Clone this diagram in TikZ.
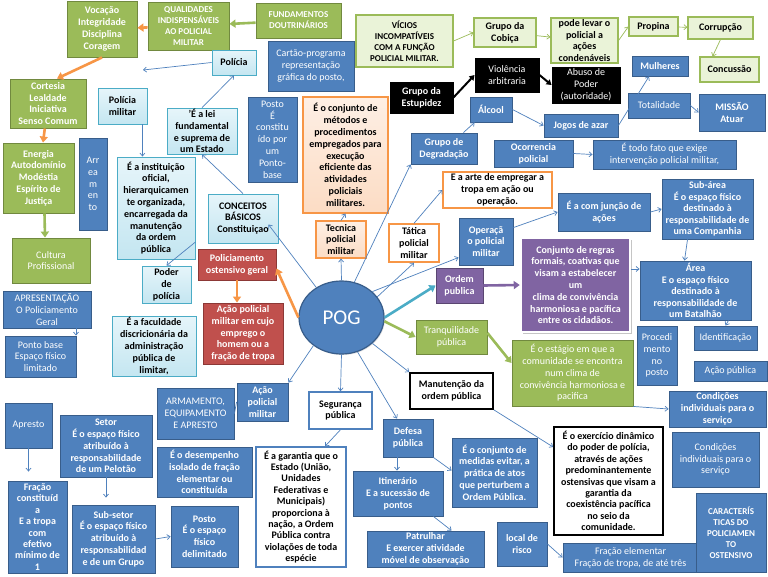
\documentclass[tikz,border=0pt]{standalone}
\usepackage{fontspec}
\setmainfont{Carlito}
\usepackage{tikz}
\usetikzlibrary{shapes, arrows.meta, positioning, shadows}

\definecolor{azul}{HTML}{4F81BD}
\definecolor{azulborda}{HTML}{385D8A}
\definecolor{celeste}{HTML}{C4E6F1}
\definecolor{celestetopo}{HTML}{E6F5FA}
\definecolor{celesteborda}{HTML}{4BACC6}
\definecolor{oliva}{HTML}{9BBB59}
\definecolor{olivaborda}{HTML}{71893F}
\definecolor{verdeclaro}{HTML}{EAF3D8}
\definecolor{laranja}{HTML}{F79646}
\definecolor{pessego}{HTML}{FCDCC4}
\definecolor{vermelho}{HTML}{C0504D}
\definecolor{vermelhoborda}{HTML}{8C3836}
\definecolor{roxo}{HTML}{8064A2}

\tikzset{
  caixa/.style={rectangle, align=center, inner sep=0.5pt, line width=0.9pt,
    font=\fontsize{10}{11.8}\selectfont\bfseries,
    drop shadow={opacity=0.25, shadow xshift=1pt, shadow yshift=-1pt}},
  tam/.style 2 args={minimum width=#1pt, minimum height=#2pt},
  fina/.style={font=\fontsize{10}{11.8}\selectfont},
  apertada/.style={font=\fontsize{10}{11.4}\selectfont\bfseries},
  maiusc/.style={font=\fontsize{9}{11}\selectfont\bfseries},
  azulcx/.style={caixa, fill=azul, draw=azulborda, text=white},
  celestecx/.style={caixa, top color=celestetopo, bottom color=celeste, draw=celesteborda},
  verdecx/.style={caixa, fill=oliva, draw=olivaborda, text=white},
  claroverde/.style={caixa, fill=verdeclaro, draw=oliva, line width=1.1pt},
  laranjacx/.style={caixa, top color=white!55!pessego, bottom color=pessego, draw=laranja, line width=1.1pt},
  brancolar/.style={caixa, fill=white, draw=laranja, line width=1.4pt},
  vermelhocx/.style={caixa, fill=vermelho, draw=vermelhoborda, text=white},
  pretocx/.style={caixa, fill=black, draw=black, text=white},
  roxocx/.style={caixa, fill=roxo, draw=roxo!70!black, text=white},
  bordapreta/.style={caixa, fill=white, draw=black, line width=1.7pt},
  bordaazul/.style={caixa, fill=white, draw=azul, line width=1.4pt},
  seta/.style={draw=azul, line width=0.7pt, -{Straight Barb[length=3pt,width=5pt]}},
  setaverde/.style={seta, draw=oliva},
  grossa/.style={line width=2.6pt, -{Triangle[length=6pt,width=8pt]}},
  setapreta/.style={black, line width=2pt, -{Triangle[length=5pt,width=6pt]}}
}

\begin{document}
\begin{tikzpicture}[x=1pt, y=-1pt]
        \useasboundingbox[fill=white] (0,0) rectangle (768,576);

        % Qualidades
        \node[verdecx, tam={70}{56}] (vocacao) at (102,29) {Vocação\\Integridade\\Disciplina\\Coragem};
        \node[verdecx, maiusc, tam={81}{48}] (qualidades) at (188.5,26) {QUALIDADES\\INDISPENSÁVEIS\\AO POLICIAL\\MILITAR};
        \node[verdecx, maiusc, tam={85}{35}] (fundamentos) at (298.5,20.5) {FUNDAMENTOS\\DOUTRINÁRIOS};
        \node[verdecx, tam={76}{49}] (cortesia) at (48,103.5) {Cortesia\\Lealdade\\Iniciativa\\Senso Comum};
        \node[verdecx, tam={71}{70}] (energia) at (38.5,178) {Energia\\Autodomínio\\Modéstia\\Espírito de\\Justiça};
        \node[verdecx, fina, tam={78}{45}] (cultura) at (51,260.5) {Cultura\\Profissional};

        % Conceitos basicos
        \node[celestecx, tam={44}{25}] (policia) at (234,62.5) {Polícia};
        \coordinate (policiafim) at (143,70);
        \node[celestecx, tam={49}{36}] (pmilitar) at (122.5,106) {Polícia\\militar};
        \node[celestecx, tam={70}{46}] (lei) at (202,131) {'É a lei\\fundamental\\e suprema de\\um Estado};
        \node[celestecx, tam={78}{102}] (instituicao) at (156,208) {É a instituição\\oficial,\\hierarquicamen\\te organizada,\\encarregada da\\manutenção\\da ordem\\pública};
        \node[celestecx, tam={70}{49}] (conceitos) at (243,218.5) {CONCEITOS\\BÁSICOS\\Constituiçao};
        \node[celestecx, tam={49}{37}] (poder) at (166.5,284.5) {Poder\\de\\polícia};
        \node[celestecx, tam={84}{60}] (faculdade) at (154,346) {É a faculdade\\discricionária da\\administração\\pública de\\limitar,};

        % Posto e tecnica
        \node[azulcx, fina, tam={28}{92}] (arreamento) at (93,184) {Arr\\ea\\m\\en\\to};
        \node[azulcx, fina, tam={86}{50}] (cartao) at (311,66) {Cartão-programa\\representação\\gráfica do posto,};
        \node[azulcx, fina, tam={49}{85}] (postobase) at (272.5,139.5) {Posto\\É\\constitu\\ído por\\um\\Ponto-\\base};
        \node[laranjacx, tam={85}{116}] (metodos) at (345.5,155) {É o conjunto de\\métodos e\\procedimentos\\empregados para\\execução\\eficiente das\\atividades\\policiais\\militares.};
        \node[laranjacx, tam={50}{37}] (tecnica) at (341,239.5) {Tecnica\\policial\\militar};

        % Vicios
        \node[claroverde, maiusc, tam={97}{52}] (vicios) at (404.5,41) {VÍCIOS\\INCOMPATÍVEIS\\COM A FUNÇÃO\\POLICIAL MILITAR.};
        \node[claroverde, tam={62}{29}] (cobica) at (505,32.5) {Grupo da\\Cobiça};
        \node[claroverde, tam={67}{45}] (podelevar) at (584.5,40.5) {pode levar o\\policial a\\ações\\condenáveis};
        \node[claroverde, tam={49}{19}] (propina) at (653.5,26.5) {Propina};
        \node[claroverde, tam={65}{22}] (corrupcao) at (720.5,28) {Corrupção};
        \node[claroverde, tam={59}{25}] (concussao) at (729.5,69.5) {Concussão};
        \node[pretocx, tam={63}{31}] (estupidez) at (421.5,97.5) {Grupo da\\Estupidez};
        \node[pretocx, fina, tam={64}{34}] (violencia) at (507,75) {Violência\\arbitraria};
        \node[pretocx, fina, tam={68}{36}] (abuso) at (586,85) {Abuso de\\Poder\\(autoridade)};

        % Degradacao
        \node[azulcx, tam={56}{20}] (mulheres) at (660,66) {Mulheres};
        \node[azulcx, fina, tam={62}{25}] (totalidade) at (659,105.5) {Totalidade};
        \node[azulcx, tam={66}{37}] (missao) at (732,112.5) {MISSÃO\\Atuar};
        \node[azulcx, tam={74}{23}] (jogos) at (581,125.5) {Jogos de azar};
        \node[azulcx, tam={79}{27}] (ocorrencia) at (533.5,153.5) {Ocorrencia\\policial};
        \node[azulcx, fina, tam={143}{29}] (todofato) at (664.5,154.5) {É todo fato que exige\\intervenção policial militar,};
        \node[azulcx, tam={42}{25}] (alcool) at (491,109.5) {Álcool};
        \node[azulcx, tam={66}{31}] (degradacao) at (444,148.5) {Grupo de\\Degradação};

        % Tatica e operacao
        \node[brancolar, tam={109}{36}] (arte) at (497.5,190) {E a arte de empregar a\\tropa em ação ou\\operação.};
        \node[brancolar, tam={50}{38}] (tatica) at (414,243) {Tática\\policial\\militar};
        \node[azulcx, tam={54}{47}] (operacao) at (486,241.5) {Operaçã\\o policial\\militar};
        \node[azulcx, tam={92}{38}] (juncao) at (604,212) {É a com junção de\\ações};
        \node[azulcx, apertada, tam={91}{60}] (subarea) at (707.5,209) {Sub-área\\É o espaço físico\\destinado à\\responsabilidade de\\uma Companhia};
        \node[azulcx, apertada, tam={111}{59}] (area) at (695.5,290.5) {Área\\E o espaço físico\\destinado à\\responsabilidade de\\um Batalhão};
        \node[azulcx, fina, tam={40}{59}] (procedimento) at (657,355.5) {Procedi\\mento\\no\\posto};
        \node[azulcx, fina, tam={63}{24}] (identificacao) at (725.5,338) {Identificação};
        \node[azulcx, fina, tam={73}{20}] (acaopublica) at (730.5,371) {Ação pública};

        % Ordem e tranquilidade
        \node[roxocx, tam={47}{35}] (ordempublica) at (459.5,285.5) {Ordem\\publica};
        \node[caixa, fill=roxo, draw=white, text=white, line width=2.5pt, drop shadow={opacity=0.45, shadow xshift=1.5pt, shadow yshift=-1.5pt}, tam={109}{94}] (regras) at (575.5,285) {Conjunto de regras\\formais, coativas que\\visam a estabelecer\\um\\clima de convivência\\harmoniosa e pacífica\\entre os cidadãos.};
        \node[verdecx, fina, tam={71}{34}] (tranquilidade) at (451.5,337) {Tranquilidade\\pública};
        \node[verdecx, fina, tam={121}{66}] (estagio) at (572.5,373) {É o estágio em que a\\comunidade se encontra\\num clima de\\convivência harmoniosa e\\pacifica};

        % POG
        \node[ellipse, fill=azul, draw=azulborda, line width=1.2pt, text=white, minimum width=85pt, minimum height=73pt, font=\fontsize{21}{24}\selectfont, drop shadow={opacity=0.25, shadow xshift=1pt, shadow yshift=-1pt}] (pog) at (341.5,317.5) {POG};

        % Policiamento
        \node[vermelhocx, tam={78}{31}] (policiamento) at (237,264.5) {Policiamento\\ostensivo geral};
        \node[vermelhocx, tam={80}{61}] (acaocujo) at (243,333.5) {Ação policial\\militar em cujo\\emprego o\\homem ou a\\fração de tropa};
        \node[azulcx, fina, tam={88}{37}] (apresentacao) at (47,309.5) {APRESENTAÇÃO\\O Policiamento\\Geral};
        \node[azulcx, fina, tam={71}{41}] (pontobase) at (40.5,356.5) {Ponto base\\Espaço físico\\limitado};

        % Fracoes e espacos
        \node[azulcx, fina, tam={47}{45}] (apresto) at (28.5,425.5) {Apresto};
        \node[azulcx, tam={92}{62}] (setor) at (106,446) {Setor\\É o espaço físico\\atribuído à\\responsabilidade\\de um Pelotão};
        \node[azulcx, fina, tam={77}{51}] (armamento) at (195.5,413.5) {ARMAMENTO,\\EQUIPAMENTO\\E APRESTO};
        \node[azulcx, tam={51}{38}] (acaopm) at (262.5,402) {Ação\\policial\\militar};
        \node[azulcx, tam={95}{50}] (desempenho) at (204.5,472) {É o desempenho\\isolado de fração\\elementar ou\\constituída};
        \node[azulcx, apertada, tam={59}{92}] (fracaoconst) at (37.5,527) {Fração\\constituíd\\a\\E a tropa\\com\\efetivo\\mínimo de\\1};
        \node[azulcx, tam={83}{68}] (subsetor) at (113.5,539) {Sub-setor\\É o espaço físico\\atribuído à\\responsabilidad\\e de um Grupo};
        \node[azulcx, tam={67}{61}] (postodelim) at (204.5,536.5) {Posto\\É o espaço\\físico\\delimitado};

        % Seguranca e defesa
        \node[bordaazul, tam={63}{37}] (seguranca) at (340.5,410.5) {Segurança\\pública};
        \node[bordaazul, apertada, tam={90}{120}] (garantia) at (301,507) {É a garantia que o\\Estado (União,\\Unidades\\Federativas e\\Municipais)\\proporciona à\\nação, a Ordem\\Pública contra\\violações de toda\\espécie};
        \node[azulcx, tam={50}{38}] (defesa) at (408,438) {Defesa\\pública};
        \node[azulcx, tam={90}{45}] (itinerario) at (398,493.5) {Itinerário\\E a sucessão de\\pontos};
        \node[azulcx, tam={117}{36}] (patrulhar) at (425.5,549) {Patrulhar\\E exercer atividade\\móvel de observação};
        \node[azulcx, tam={85}{69}] (medidas) at (494.5,472.5) {É o conjunto de\\medidas evitar, a\\prática de atos\\que perturbem a\\Ordem Pública.};
        \node[bordapreta, tam={83}{36}] (manutencao) at (451.5,391) {Manutenção da\\ordem pública};
        \node[bordapreta, apertada, tam={109}{108}] (exercicio) at (608.5,481) {É o exercício dinâmico\\do poder de polícia,\\através de ações\\predominantemente\\ostensivas que visam a\\garantia da\\coexistência pacífica\\no seio da\\comunidade.};
        \node[azulcx, tam={97}{36}] (condicoes) at (717.5,409) {Condições\\individuais para o\\serviço};
        \node[azulcx, fina, tam={87}{55}] (condicoesb) at (715.5,459.5) {Condições\\individuais para o\\serviço};
        \node[azulcx, tam={50}{44}] (localrisco) at (522,544) {local de\\risco};
        \node[azulcx, fina, tam={135}{29}] (fracaoelem) at (630.5,557.5) {Fração elementar\\Fração de tropa, de até três};
        \node[azulcx, maiusc, tam={70}{79}] (caracteristicas) at (731,532.5) {CARACTERÍS\\TICAS DO\\POLICIAMEN\\TO\\OSTENSIVO};

        % Thick arrows
        \draw[grossa, oliva] (fundamentos) -- (qualidades);
        \draw[grossa, laranja] (qualidades) -- (vocacao);
        \draw[grossa, laranja] (vocacao.south) -- ([xshift=9pt]cortesia.north);
        \draw[grossa, laranja] (cortesia) -- (energia);
        \draw[grossa, oliva] ([xshift=6pt]energia.south) -- ([xshift=-6pt]cultura.north);
        \draw[grossa, laranja] (pog.west) -- ([yshift=-4pt]policiamento.east);
        \draw[grossa, laranja] (policiamento.south) -- (policiamento.south |- acaocujo.north);
        \draw[grossa, celesteborda] (pog.east) -- (ordempublica.west);
        \draw[grossa, roxo] (ordempublica.east) -- (regras.west);
        \draw[grossa, oliva] (pog.-5) -- (tranquilidade.west);
        \draw[grossa, oliva] ([yshift=4pt]tranquilidade.east) -- ([yshift=10pt]estagio.west);
        \draw[setapreta] (estupidez.east) -- (violencia.west);
        \draw[setapreta] (violencia.east) -- (abuso.west);

        % Vicios arrows
        \draw[setaverde] (vicios.east) -- (cobica.west);
        \draw[setaverde] (cobica) -- (podelevar);
        \draw[setaverde] (podelevar.east) -- (propina.west);
        \draw[setaverde] (propina) -- (corrupcao);
        \draw[setaverde] (corrupcao.south) -- ([xshift=-17pt]concussao.north);

        % Blue arrows
        \draw[seta] (policia.west) -- (policiafim);
        \draw[seta] (lei.north) -- (policia.south);
        \draw[seta] ([xshift=-5pt]pmilitar.south east) -- ([xshift=-5pt]pmilitar.south east |- instituicao.north);
        \draw[seta] (conceitos.north) -- (lei.south);
        \draw[seta] (pog.130) -- ([xshift=-10pt,yshift=-6pt]conceitos.east);
        \draw[seta] ([yshift=-34pt]instituicao.east) -- (poder.north);
        \draw[seta] (pog.north) -- (tecnica.south);
        \draw[seta] (tecnica.north) -- (metodos.south);
        \draw[seta] (pog.70) -- (degradacao.south west);
        \draw[seta] ([xshift=-14pt]degradacao.north east) -- ([xshift=5pt]alcool.south west);
        \draw[seta] (alcool.east) -- (jogos.west);
        \draw[seta] (jogos.east) -- ([xshift=-11pt]mulheres.south);
        \draw[seta] (totalidade.east) -- (missao.west);
        \draw[seta] (ocorrencia.east) -- (todofato.west);
        \draw[seta] (pog.30) -- (tatica.south);
        \draw[seta] (tatica.north) -- (arte.west);
        \draw[seta] (pog.40) -- ([yshift=-16pt]operacao.west);
        \draw[seta] ([yshift=-10pt]operacao.north east) -- (juncao.west);
        \draw[seta] (juncao.east) -- (subarea.west);
        \draw[seta] ([xshift=-20pt]subarea.south) -- ([xshift=-11pt]area.north);
        \draw[seta] ([yshift=16pt]regras.east) -- ([yshift=21.5pt]area.west);
        \draw[seta] ([xshift=33pt]area.south) -- (identificacao.north);
        \draw[seta] (estagio.south east) -- (condicoes.west);
        \draw[seta] (pog.225) -- (acaopm.north east);
        \draw[seta] (pog.south) -- (seguranca.north);
        \draw[seta] (pog.-65) -- ([xshift=-11pt]defesa.north);
        \draw[seta] (pog.-40) -- (manutencao.north west);
        \draw[seta] (seguranca.south) -- ([xshift=24pt]garantia.north);
        \draw[seta] ([xshift=-11pt]defesa.south) -- ([xshift=-1pt]itinerario.north);
        \draw[seta] (defesa.south east) -- ([yshift=2pt]medidas.west);
        \draw[seta] ([xshift=-10pt]itinerario.south east) -- ([xshift=26pt]patrulhar.north);
        \draw[seta] (manutencao.south east) -- ([yshift=34pt]exercicio.west);
        \draw[seta] (localrisco.east) -- (fracaoelem.west);
        \draw[seta, shorten >=9pt] (apresto.south) -- (apresto.south |- fracaoconst.north);
        \draw[seta, shorten >=7pt] (setor.south) -- (setor.south |- subsetor.north);
        \draw[seta] (subsetor.east) -- (postodelim.west);
        \draw[seta] ([xshift=29pt]apresentacao.south) -- ([xshift=35.5pt]pontobase.north);
        \draw[azul, line width=0.7pt] (armamento.east) -- (acaopm.west);
    \end{tikzpicture}
\end{document}
